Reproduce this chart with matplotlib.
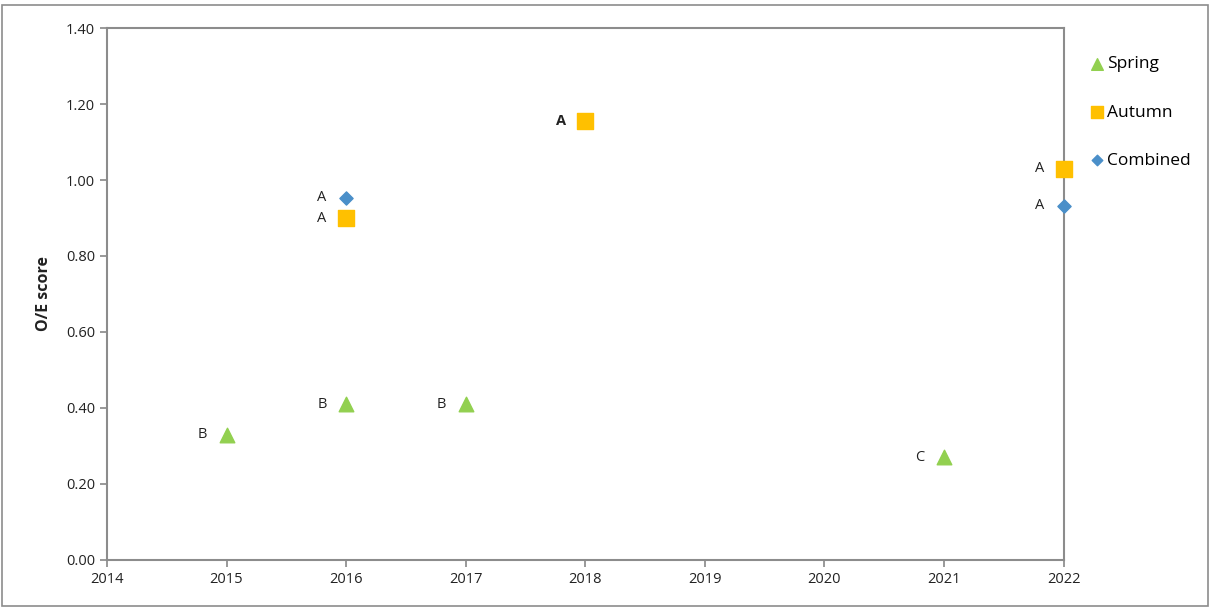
import matplotlib
matplotlib.use("Agg")
from matplotlib import pyplot as plt
from matplotlib.patches import Rectangle

plt.rcParams['font.family'] = ['Open Sans', 'DejaVu Sans']

# data
spring_years = [2015, 2016, 2017, 2021]
spring_vals = [0.33, 0.41, 0.41, 0.27]
spring_labels = ['B', 'B', 'B', 'C']

autumn_years = [2016, 2018, 2022]
autumn_vals = [0.90, 1.155, 1.03]
autumn_labels = ['A', 'A', 'A']

combined_years = [2016, 2022]
combined_vals = [0.953, 0.932]
combined_labels = ['A', 'A']

green = '#92D050'
orange = '#FFC000'
blue = '#4A8FC9'

fig = plt.figure(figsize=(12.1, 6.09), dpi=100)
ax = fig.add_axes([0.0884, 0.0805, 0.7906, 0.8735])

ax.scatter(spring_years, spring_vals, marker='^', s=110, color=green, label='Spring', zorder=3, clip_on=False)
ax.scatter(autumn_years, autumn_vals, marker='s', s=120, color=orange, label='Autumn', zorder=3, clip_on=False)
ax.scatter(combined_years, combined_vals, marker='D', s=45, color=blue, label='Combined', zorder=3, clip_on=False)

# letter labels to the left of each point
for xs, ys, labs in [(spring_years, spring_vals, spring_labels),
                     (autumn_years, autumn_vals, autumn_labels),
                     (combined_years, combined_vals, combined_labels)]:
    for x, y, t in zip(xs, ys, labs):
        w = 'bold' if x == 2018 else 'normal'
        ax.annotate(t, (x, y), xytext=(-14, 0), textcoords='offset points',
                    ha='right', va='center', fontsize=10.5, color='#222222',
                    fontweight=w)

ax.set_xlim(2014, 2022)
ax.set_ylim(0, 1.4)
ax.set_xticks(range(2014, 2023))
ax.set_yticks([0, 0.2, 0.4, 0.6, 0.8, 1.0, 1.2, 1.4])
ax.set_yticklabels(['%.2f' % v for v in ax.get_yticks()])
ax.tick_params(labelsize=10.5, labelcolor='#222222', length=5, width=1.2,
               direction='out', color='#888888')
for sp in ax.spines.values():
    sp.set_color('#8c8c8c')
    sp.set_linewidth(1.5)
ax.set_ylabel('O/E score', fontsize=11.5, fontweight='bold', color='#222222', labelpad=10)

ax.legend(loc='upper left', bbox_to_anchor=(1.02, 0.96), frameon=False,
          fontsize=12.5, handletextpad=0.1, labelspacing=1.85, handlelength=0.9,
          markerscale=0.8, borderaxespad=0)

fig.patches.append(Rectangle((0.002, 0.005), 0.996, 0.987, transform=fig.transFigure,
                             fill=False, edgecolor='#8c8c8c', linewidth=1.2))

fig.savefig('out.png', dpi=100)
